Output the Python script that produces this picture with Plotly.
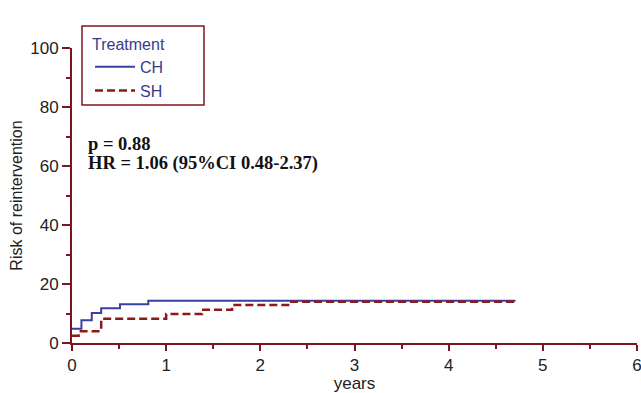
import plotly.graph_objects as go

# Data
ch_t = [0, 0.10, 0.21, 0.31, 0.51, 0.81, 4.71]
ch_r = [4.8, 7.7, 10.2, 11.8, 13.1, 14.3, 14.3]
sh_t = [0, 0.07, 0.31, 1.0, 1.38, 1.70, 2.31, 4.71]
sh_r = [2.5, 4.0, 8.2, 9.8, 11.3, 12.9, 14.0, 14.0]
x_ticks = [0, 1, 2, 3, 4, 5, 6]
y_ticks = [0, 20, 40, 60, 80, 100]

AX = "#7d1420"
BLUE = "#3c3ea2"
RED = "#8b1a1a"
NAVY = "#3a3a88"

fig = go.Figure()
fig.add_trace(go.Scatter(x=ch_t, y=ch_r, mode="lines", name="CH",
                         line=dict(color=BLUE, width=2, shape="hv")))
fig.add_trace(go.Scatter(x=sh_t, y=sh_r, mode="lines", name="SH",
                         line=dict(color=RED, width=2.5, shape="hv", dash="8px,4px")))

W, H = 641, 393
L, R, T, B = 72, 4, 48, 49.5
pw, ph = W - L - R, H - T - B

def px(x):
    return (x - L) / pw

def py(y):
    return (H - B - y) / ph

axis_common = dict(showline=True, linecolor=AX, linewidth=2, ticks="outside",
                   tickcolor=AX, tickwidth=2, showgrid=False, zeroline=False,
                   tickfont=dict(family="Liberation Sans, Arial", size=17, color="#222"),
                   ticklabeloverflow="allow", mirror=False, automargin=False)

fig.update_layout(
    width=W, height=H,
    margin=dict(l=L, r=R, t=T, b=B),
    paper_bgcolor="white", plot_bgcolor="white",
    xaxis=dict(range=[0, 6], tickvals=x_ticks, ticklen=6, **axis_common,
               minor=dict(dtick=0.5, ticklen=4, tickwidth=1.5, tickcolor=AX, ticks="outside"),
               title=dict(text="years", standoff=4,
                          font=dict(family="Liberation Sans, Arial", size=17, color="#222"))),
    yaxis=dict(range=[0, 100], tickvals=y_ticks, ticklen=8, **axis_common,
               minor=dict(dtick=10, ticklen=4, tickwidth=1.5, tickcolor=AX, ticks="outside"),
               title=dict(text="Risk of reintervention", standoff=4,
                          font=dict(family="Liberation Sans, Arial", size=16, color="#222"))),
    showlegend=True,
    legend=dict(title=dict(text="Treatment", font=dict(size=16, color=NAVY, family="Liberation Sans, Arial")),
                font=dict(size=16, color=NAVY, family="Liberation Sans, Arial"),
                x=px(90), y=py(29), xanchor="left", yanchor="top",
                bgcolor="rgba(0,0,0,0)", borderwidth=0, itemwidth=40,
                tracegroupgap=0),
)

fig.add_shape(type="rect", xref="paper", yref="paper",
              x0=px(82), x1=px(204), y0=py(105), y1=py(26),
              line=dict(color=AX, width=1.5), fillcolor="rgba(0,0,0,0)")

fig.add_annotation(xref="paper", yref="paper", x=px(86), y=py(144), xanchor="left", yanchor="middle",
                   text="<b>p = 0.88</b>", showarrow=False,
                   font=dict(family="Liberation Serif, Times New Roman", size=18.5, color="#111"))
fig.add_annotation(xref="paper", yref="paper", x=px(86), y=py(164), xanchor="left", yanchor="middle",
                   text="<b>HR = 1.06 (95%CI 0.48-2.37)</b>", showarrow=False,
                   font=dict(family="Liberation Serif, Times New Roman", size=18.5, color="#111"))

fig.write_html("out.html")
